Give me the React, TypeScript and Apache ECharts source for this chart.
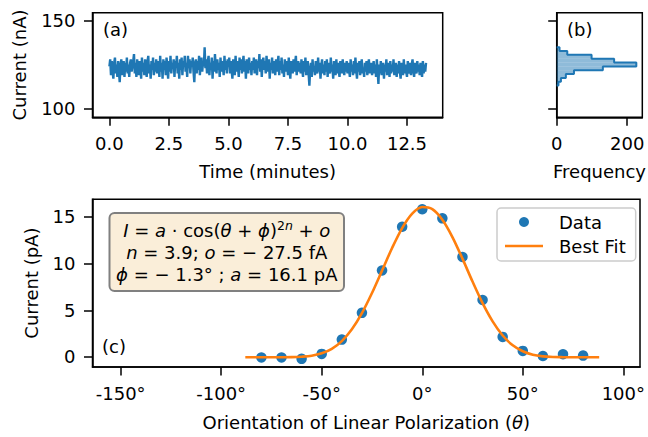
import React, { useEffect, useRef } from 'react';
import * as echarts from 'echarts';

const FONT = "'DejaVu Sans', sans-serif";
const BLUE = '#1f77b4';
const ORANGE = '#ff7f0e';

// (a) current vs time, one sample every 2 s
const timeStepMinutes = 2 / 60;
const currentNA = [
  124,128,119,127,121,117,126,129,120,125,118,127,121,115,125,128,119,123,127,118,126,121,129,120,125,118,126,128,121,124,
  127,131,120,126,118,128,122,119,127,124,117,129,121,126,119,128,123,118,127,130,120,125,117,127,122,129,119,126,121,128,
  120,127,124,118,130,121,126,117,128,122,127,119,129,124,117,127,121,130,120,126,123,128,118,127,124,130,120,126,117,128,
  122,129,119,127,124,130,121,126,118,130,123,128,120,127,124,129,121,115,126,128,120,127,122,130,119,126,129,121,127,124,
  135,123,128,120,127,130,119,126,122,129,117,127,121,131,124,120,128,122,126,118,129,121,127,124,119,130,122,127,120,128,
  124,129,120,127,122,117,128,125,119,130,121,127,124,118,129,122,128,120,126,130,121,127,117,128,123,120,129,122,126,119,
  127,122,129,120,126,128,119,127,123,131,121,128,118,126,129,122,127,120,130,124,121,128,117,126,122,129,120,127,124,119,
  128,121,126,130,119,127,122,129,120,125,118,128,121,127,125,119,129,122,117,127,124,120,128,121,126,130,119,124,127,121,
  126,120,128,122,118,127,121,129,119,124,127,120,113,122,126,118,128,121,124,119,127,122,120,129,121,126,117,124,128,120,
  125,119,127,121,128,118,126,122,120,129,121,125,117,127,122,119,128,120,126,121,118,127,124,120,128,122,119,126,121,127,
  120,126,122,118,128,121,125,119,127,120,129,122,117,126,121,127,119,124,128,120,123,118,126,121,127,119,125,128,120,123,
  126,119,123,127,120,125,118,128,121,114,125,120,127,119,123,126,117,125,121,128,119,123,126,118,127,120,125,121,128,119,
  124,126,118,125,120,127,121,117,126,122,119,128,120,125,121,118,127,122,120,126,119,125,128,121,118,126,122,120,127,121,
  125,119,126,121,118,127,120,125,121,126,
];
const timeTicks = [0, 2.5, 5, 7.5, 10, 12.5];
const currentTicks = [100, 150];

// (b) histogram of current (10 bins)
const histEdges = [113.0, 115.2, 117.4, 119.6, 121.8, 124.0, 126.2, 128.4, 130.6, 132.8, 135.0];
const histCounts = [5, 12, 26, 49, 131, 226, 163, 99, 30, 8];
const freqTicks = [0, 200];

// (c) polarization dependence
const anglesDeg = [-80, -70, -60, -50, -40, -30, -20, -10, 0, 10, 20, 30, 40, 50, 60, 70, 80];
const photoCurrentPA = [-0.05, -0.05, -0.2, 0.33, 1.86, 4.72, 9.26, 13.93, 15.8, 14.83, 10.7, 6.1, 2.15, 0.65, 0.1, 0.3, 0.15];
const fitAnglesDeg = [-88, -85, -80, -75, -70, -65, -60, -55, -50, -45, -40, -35, -30, -25, -20, -15, -10, -5, 0, 5, 10, 15, 20, 25, 30, 35, 40, 45, 50, 55, 60, 65, 70, 75, 80, 85, 88];
const fitCurrentPA = [-0.03, -0.03, -0.03, -0.03, -0.025, -0.015, 0.03, 0.13, 0.39, 0.87, 1.70, 2.96, 4.69, 6.84, 9.24, 11.66, 13.79, 15.33, 16.04, 15.81, 14.68, 12.83, 10.52, 8.07, 5.76, 3.81, 2.30, 1.25, 0.61, 0.24, 0.07, 0.0, -0.02, -0.026, -0.027, -0.0275, -0.0275];
const angleTicks = [-150, -100, -50, 0, 50, 100];
const pATicks = [0, 5, 10, 15];

const labelStyle = { color: '#000', fontSize: 18, fontFamily: FONT, margin: 17 };
const nameStyle = { color: '#000', fontSize: 18, fontFamily: FONT };

function valueAxis(gridIndex: number, min: number, max: number, ticks: number[], opts: any = {}) {
  return {
    type: 'value',
    gridIndex,
    min,
    max,
    axisLine: { show: true, onZero: false, lineStyle: { color: '#000', width: 1.5 } },
    axisTick: { show: true, inside: false, length: 8.5, customValues: ticks, lineStyle: { color: '#000', width: 1.5 } },
    axisLabel: { ...labelStyle, customValues: ticks, show: opts.showLabels !== false, formatter: opts.formatter },
    splitLine: { show: false },
    name: opts.name,
    nameLocation: 'middle',
    nameGap: opts.nameGap,
    nameTextStyle: opts.nameTextStyle || nameStyle,
  };
}

export default function App() {
  const ref = useRef<HTMLDivElement>(null);
  useEffect(() => {
    if (!ref.current) return;
    const chart = echarts.init(ref.current, null, { renderer: 'svg' });

    const timeData = currentNA.map((v, i) => [i * timeStepMinutes, v]);
    const histData = histCounts.map((c, i) => [histEdges[i], histEdges[i + 1], c]);
    const histOutline: number[][] = [[0, histEdges[0]]];
    histCounts.forEach((c, i) => {
      histOutline.push([c, histEdges[i]]);
      histOutline.push([c, histEdges[i + 1]]);
    });
    histOutline.push([0, histEdges[histEdges.length - 1]]);
    const scatterData = anglesDeg.map((a, i) => [a, photoCurrentPA[i]]);
    const fitData = fitAnglesDeg.map((a, i) => [a, fitCurrentPA[i]]);

    const gridBase = { show: true, borderColor: '#000', borderWidth: 1.5, backgroundColor: 'transparent', containLabel: false };

    const option: any = {
      animation: false,
      backgroundColor: '#fff',
      grid: [
        { ...gridBase, left: 92.5, top: 12.7, width: 350.2, height: 104.6 },
        { ...gridBase, left: 556.7, top: 12.7, width: 89.3, height: 104.6 },
        { ...gridBase, left: 92.5, top: 199.2, width: 550.2, height: 167.8 },
      ],
      xAxis: [
        valueAxis(0, -0.71, 14.0, timeTicks, { formatter: (v: number) => v.toFixed(1), name: 'Time (minutes)', nameGap: 45 }),
        valueAxis(1, 0, 243, freqTicks, { name: 'Frequency', nameGap: 45 }),
        valueAxis(2, -164, 108.3, angleTicks, {
          formatter: (v: number) => `${v}°`,
          name: 'Orientation of Linear Polarization ({it|θ})',
          nameGap: 46,
          nameTextStyle: { ...nameStyle, rich: { it: { fontStyle: 'italic', fontSize: 18, fontFamily: FONT, color: '#000' } } },
        }),
      ],
      yAxis: [
        valueAxis(0, 94.85, 154.75, currentTicks, { name: 'Current (nA)', nameGap: 64 }),
        valueAxis(1, 94.85, 154.75, currentTicks, { showLabels: false }),
        valueAxis(2, -1.07, 16.88, pATicks, { name: 'Current (pA)', nameGap: 52 }),
      ],
      legend: {
        orient: 'vertical',
        left: 497,
        top: 208,
        padding: [5, 10, 6, 8],
        itemGap: 6,
        itemWidth: 38,
        itemHeight: 10,
        backgroundColor: 'rgba(255,255,255,0.8)',
        borderColor: '#cccccc',
        borderWidth: 1.5,
        borderRadius: 4,
        textStyle: { color: '#000', fontSize: 18, fontFamily: FONT, padding: [0, 0, 0, 11] },
        data: [
          { name: 'Data', icon: 'circle' },
          { name: 'Best Fit', icon: 'path://M0,0H38V2.6H0Z' },
        ],
      },
      series: [
        {
          type: 'line',
          xAxisIndex: 0,
          yAxisIndex: 0,
          data: timeData,
          showSymbol: false,
          symbol: 'none',
          lineStyle: { color: BLUE, width: 2.4 },
          silent: true,
        },
        {
          type: 'custom',
          xAxisIndex: 1,
          yAxisIndex: 1,
          data: histData,
          encode: { x: 2, y: [0, 1] },
          renderItem: (params: any, api: any) => {
            const lo = api.value(0);
            const hi = api.value(1);
            const f = api.value(2);
            const p0 = api.coord([0, hi]);
            const p1 = api.coord([f, lo]);
            return {
              type: 'rect',
              shape: { x: p0[0], y: p0[1], width: p1[0] - p0[0], height: p1[1] - p0[1] },
              style: { fill: 'rgba(31,119,180,0.5)', stroke: 'none' },
            };
          },
          silent: true,
        },
        {
          type: 'line',
          xAxisIndex: 1,
          yAxisIndex: 1,
          data: histOutline,
          symbol: 'none',
          lineStyle: { color: BLUE, width: 2 },
          silent: true,
        },
        {
          name: 'Data',
          type: 'scatter',
          xAxisIndex: 2,
          yAxisIndex: 2,
          data: scatterData,
          symbol: 'circle',
          symbolSize: 10.5,
          itemStyle: { color: BLUE, opacity: 1 },
          z: 2,
        },
        {
          name: 'Best Fit',
          type: 'line',
          xAxisIndex: 2,
          yAxisIndex: 2,
          data: fitData,
          symbol: 'none',
          smooth: 0.3,
          lineStyle: { color: ORANGE, width: 2.6 },
          itemStyle: { color: ORANGE },
          z: 3,
        },
      ],
      graphic: [
        { type: 'text', left: 103, top: 20, style: { text: '(a)', fontSize: 18, fontFamily: FONT, fill: '#000' } },
        { type: 'text', left: 567, top: 20, style: { text: '(b)', fontSize: 18, fontFamily: FONT, fill: '#000' } },
        { type: 'text', left: 102, top: 337, style: { text: '(c)', fontSize: 18, fontFamily: FONT, fill: '#000' } },
        {
          type: 'group',
          left: 108.5,
          top: 212,
          children: [
            {
              type: 'rect',
              shape: { x: 0, y: 0, width: 234.5, height: 78, r: 5 },
              style: { fill: '#faeed9', stroke: '#808080', lineWidth: 2 },
            },
            {
              type: 'text',
              x: 117.25,
              y: 17,
              style: {
                text: '{it|I} = {it|a} · cos({it|θ} + {it|ϕ}){sup|2}{supi|n} + {it|o}',
                align: 'center',
                verticalAlign: 'middle',
                fontSize: 18,
                fontFamily: FONT,
                fill: '#000',
                rich: {
                  it: { fontStyle: 'italic', fontSize: 18, fontFamily: FONT, fill: '#000' },
                  sup: { fontSize: 12.5, fontFamily: FONT, fill: '#000', verticalAlign: 'top', lineHeight: 22 },
                  supi: { fontSize: 12.5, fontStyle: 'italic', fontFamily: FONT, fill: '#000', verticalAlign: 'top', lineHeight: 22 },
                },
              },
            },
            {
              type: 'text',
              x: 117.25,
              y: 39.5,
              style: {
                text: '{it|n} = 3.9; {it|o} = − 27.5 fA',
                align: 'center',
                verticalAlign: 'middle',
                fontSize: 18,
                fontFamily: FONT,
                fill: '#000',
                rich: { it: { fontStyle: 'italic', fontSize: 18, fontFamily: FONT, fill: '#000' } },
              },
            },
            {
              type: 'text',
              x: 117.25,
              y: 61.5,
              style: {
                text: '{it|ϕ} = − 1.3° ; {it|a} = 16.1 pA',
                align: 'center',
                verticalAlign: 'middle',
                fontSize: 18,
                fontFamily: FONT,
                fill: '#000',
                rich: { it: { fontStyle: 'italic', fontSize: 18, fontFamily: FONT, fill: '#000' } },
              },
            },
          ],
        },
      ],
    };

    chart.setOption(option);
    return () => chart.dispose();
  }, []);

  return <div ref={ref} style={{ position: 'absolute', left: 0, top: 0, width: 648, height: 437 }} />;
}
